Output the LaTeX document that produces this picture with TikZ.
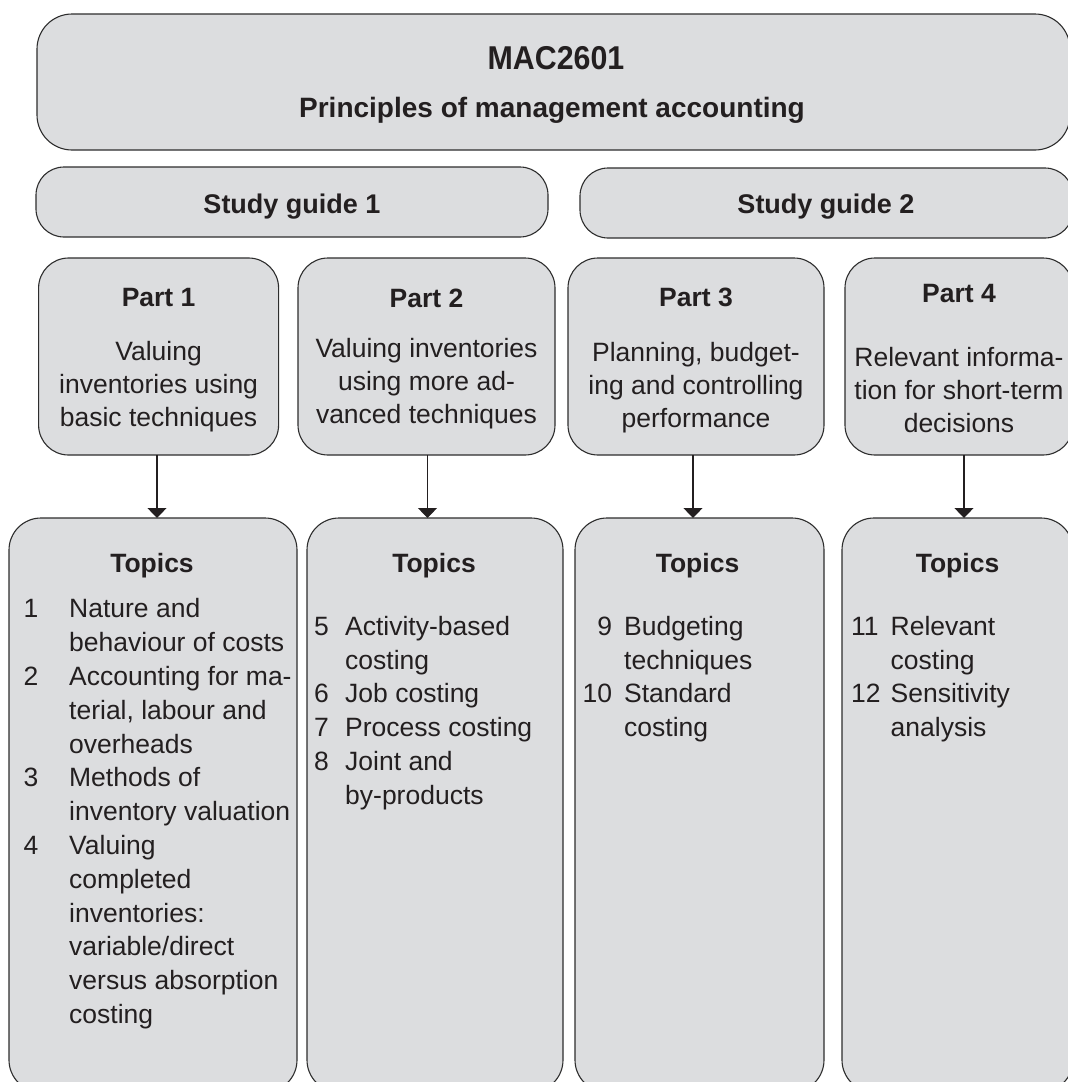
\documentclass[tikz,border=0pt]{standalone}
\usepackage{fontspec}
\setmainfont{Liberation Sans}
\newfontfamily\condbold[FakeStretch=0.92]{Liberation Sans Bold}
\usetikzlibrary{arrows.meta}
\definecolor{boxfill}{RGB}{220,221,223}
\definecolor{boxline}{RGB}{45,45,45}
\definecolor{ink}{RGB}{35,31,32}
\newcommand{\numcol}[2]{\makebox[#1][l]{#2}}
\newcommand{\numcolr}[2]{\makebox[#1][r]{#2}}
\begin{document}
\begin{tikzpicture}[x=1pt,y=-1pt,
  box/.style={draw=boxline, fill=boxfill, line width=1.1pt, inner sep=0pt, outer sep=0pt},
  topbox/.style={box, rounded corners=35pt},
  guidebox/.style={box, rounded corners=28pt, minimum height=70pt},
  partbox/.style={box, rounded corners=30pt, minimum height=197pt},
  topicbox/.style={box, rounded corners=32pt, minimum height=574pt},
  head/.style={text=ink, inner sep=0pt, anchor=base, font=\fontsize{26.5}{32}\bfseries\selectfont},
  body/.style={text=ink, inner sep=0pt, anchor=north, align=center, font=\fontsize{26.5}{33}\selectfont},
  list/.style={text=ink, inner sep=0pt, anchor=north west, align=left, font=\fontsize{26.5}{33.8}\selectfont},
  arr/.style={draw=ink, line width=1.2pt, -{Triangle[width=19pt,length=10pt]}}
]
\useasboundingbox (0,0) rectangle (1068,1082);
\clip (0,0) rectangle (1068,1082);

% top box
\node[topbox, minimum width=1033pt, minimum height=136pt] (top) at (553.5,82) {};
\node[head, font=\fontsize{33}{38}\condbold] (mac) at (556,69.5) {MAC2601};
\node[head, font=\fontsize{28}{32}\bfseries\selectfont] (pma) at (552,117.5) {Principles of management accounting};

% study guides
\node[guidebox, minimum width=512pt] (sg1) at (292,202) {};
\node[head, font=\fontsize{27}{32}\bfseries\selectfont] (sg1t) at (292,213) {Study guide 1};
\node[guidebox, minimum width=493pt] (sg2) at (826.5,203) {};
\node[head, font=\fontsize{27}{32}\bfseries\selectfont] (sg2t) at (826,213) {Study guide 2};

% parts
\node[partbox, minimum width=240pt] (p1) at (158.6,356.5) {};
\node[partbox, minimum width=257pt] (p2) at (426.5,356.5) {};
\node[partbox, minimum width=256pt] (p3) at (696,356.5) {};
\node[partbox, minimum width=228pt] (p4) at (959,356.5) {};

\node[head] (p1h) at (158.6,306) {Part 1};
\node[head] (p2h) at (426.5,307) {Part 2};
\node[head] (p3h) at (696,306) {Part 3};
\node[head] (p4h) at (959,302) {Part 4};

\node[body] (p1b) at (158.6,337.4) {\strut Valuing\\inventories using\\basic techniques};
\node[body] (p2b) at (426.5,334.4) {\strut Valuing inventories\\using more ad-\\vanced techniques};
\node[body] (p3b) at (696,338.4) {\strut Planning, budget-\\ing and controlling\\performance};
\node[body] (p4b) at (959,343.4) {\strut Relevant informa-\\tion for short-term\\decisions};

% topics boxes
\node[topicbox, minimum width=288pt] (t1) at (153,805) {};
\node[topicbox, minimum width=256pt] (t2) at (435,805) {};
\node[topicbox, minimum width=249pt] (t3) at (699.5,805) {};
\node[topicbox, minimum width=231pt] (t4) at (957.5,805) {};

\node[head] (t1h) at (152,572) {Topics};
\node[head] (t2h) at (434,572) {Topics};
\node[head] (t3h) at (697.5,572) {Topics};
\node[head] (t4h) at (957.5,572) {Topics};

\node[list] (t1l) at (23.5,594) {%
\strut\numcol{45.5pt}{1}Nature and\\
\numcol{45.5pt}{}behaviour of costs\\
\numcol{45.5pt}{2}Accounting for ma-\\
\numcol{45.5pt}{}terial, labour and\\
\numcol{45.5pt}{}overheads\\
\numcol{45.5pt}{3}Methods of\\
\numcol{45.5pt}{}inventory valuation\\
\numcol{45.5pt}{4}Valuing\\
\numcol{45.5pt}{}completed\\
\numcol{45.5pt}{}inventories:\\
\numcol{45.5pt}{}variable/direct\\
\numcol{45.5pt}{}versus absorption\\
\numcol{45.5pt}{}costing};

\node[list] (t2l) at (314,611.5) {%
\strut\numcol{31pt}{5}Activity-based\\
\numcol{31pt}{}costing\\
\numcol{31pt}{6}Job costing\\
\numcol{31pt}{7}Process costing\\
\numcol{31pt}{8}Joint and\\
\numcol{31pt}{}by-products};

\node[list] (t3l) at (582.5,611.5) {%
\strut\numcolr{29.5pt}{9}\hspace*{12pt}Budgeting\\
\numcolr{29.5pt}{}\hspace*{12pt}techniques\\
\numcolr{29.5pt}{10}\hspace*{12pt}Standard\\
\numcolr{29.5pt}{}\hspace*{12pt}costing};

\node[list] (t4l) at (851,611.5) {%
\strut\numcol{39.5pt}{11}Relevant\\
\numcol{39.5pt}{}costing\\
\numcol{39.5pt}{12}Sensitivity\\
\numcol{39.5pt}{}analysis};

% connectors
\draw[arr] ([xshift=-1.6pt]p1.south) -- ([xshift=-1.6pt]p1.south |- t1.north);
\draw[arr] ([xshift=1pt]p2.south) -- ([xshift=1pt]p2.south |- t2.north);
\draw[arr] ([xshift=-3pt]p3.south) -- ([xshift=-3pt]p3.south |- t3.north);
\draw[arr] ([xshift=5pt]p4.south) -- ([xshift=5pt]p4.south |- t4.north);
\end{tikzpicture}
\end{document}
